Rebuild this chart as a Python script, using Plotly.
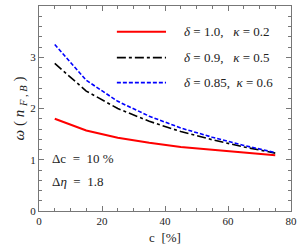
import plotly.graph_objects as go

c_vals = [5, 15, 25, 35, 45, 55, 65, 75]
red_vals = [1.80, 1.57, 1.43, 1.33, 1.25, 1.19, 1.14, 1.09]
black_vals = [2.88, 2.34, 2.00, 1.75, 1.55, 1.39, 1.25, 1.13]
blue_vals = [3.25, 2.55, 2.14, 1.85, 1.62, 1.44, 1.28, 1.14]

labels = ["<i>δ</i> = 1.0,   <i>κ</i> = 0.2",
          "<i>δ</i> = 0.9,   <i>κ</i> = 0.5",
          "<i>δ</i> = 0.85,  <i>κ</i> = 0.6"]

FONT = "Liberation Serif"
TXT = "#222222"

styles = [dict(color="#ff0000", width=2),
          dict(color="black", width=1.6, dash="dashdot"),
          dict(color="#0000ff", width=1.6, dash="4px,2px")]
series = [red_vals, black_vals, blue_vals]

fig = go.Figure()
for vals, st, lab in zip(series, styles, labels):
    fig.add_trace(go.Scatter(x=c_vals, y=vals, mode="lines", name=lab, line=st,
                             showlegend=False))

# manual legend (keys longer than Plotly's default)
legend_rows = [0.874, 0.748, 0.626]
for ypos, st, lab in zip(legend_rows, styles, labels):
    fig.add_shape(type="line", xref="paper", yref="paper", x0=0.309, x1=0.504,
                  y0=ypos, y1=ypos, line=st)
    fig.add_annotation(x=0.566, y=ypos, xref="paper", yref="paper", xanchor="left",
                       yanchor="middle", text=lab, showarrow=False,
                       font=dict(family=FONT, size=13, color=TXT))

axis_common = dict(showline=True, linecolor="#777777", linewidth=1, mirror="allticks",
                   ticks="inside", ticklen=5, tickcolor="#777777", showgrid=False,
                   zeroline=False, tickfont=dict(family=FONT, size=11, color=TXT))

fig.update_xaxes(range=[0, 80], dtick=20,
                 minor=dict(ticks="inside", dtick=5, ticklen=3, tickcolor="#777777"),
                 title=dict(text="c  [%]", font=dict(family=FONT, size=13, color=TXT), standoff=6),
                 **axis_common)
fig.update_yaxes(range=[0, 4], dtick=1,
                 minor=dict(ticks="inside", dtick=0.2, ticklen=3, tickcolor="#777777"),
                 title=dict(text="<i>ω</i> ( <i>n</i> <sub><i>F</i> , <i>B</i></sub> )",
                            font=dict(family=FONT, size=15, color=TXT), standoff=2),
                 **axis_common)

fig.add_annotation(x=0.045, y=0.257, xref="paper", yref="paper", xanchor="left", yanchor="middle",
                   text="Δc  =  10 %", showarrow=False, font=dict(family=FONT, size=13, color=TXT))
fig.add_annotation(x=0.045, y=0.146, xref="paper", yref="paper", xanchor="left", yanchor="middle",
                   text="Δ<i>η</i>  =  1.8", showarrow=False, font=dict(family=FONT, size=13, color=TXT))

fig.update_layout(
    width=302, height=252,
    margin=dict(l=39, r=7, t=5, b=41),
    paper_bgcolor="white", plot_bgcolor="white",
    showlegend=False,
)

fig.write_html("out.html", config={"displayModeBar": False},
               post_script="document.body.style.margin='0';")
